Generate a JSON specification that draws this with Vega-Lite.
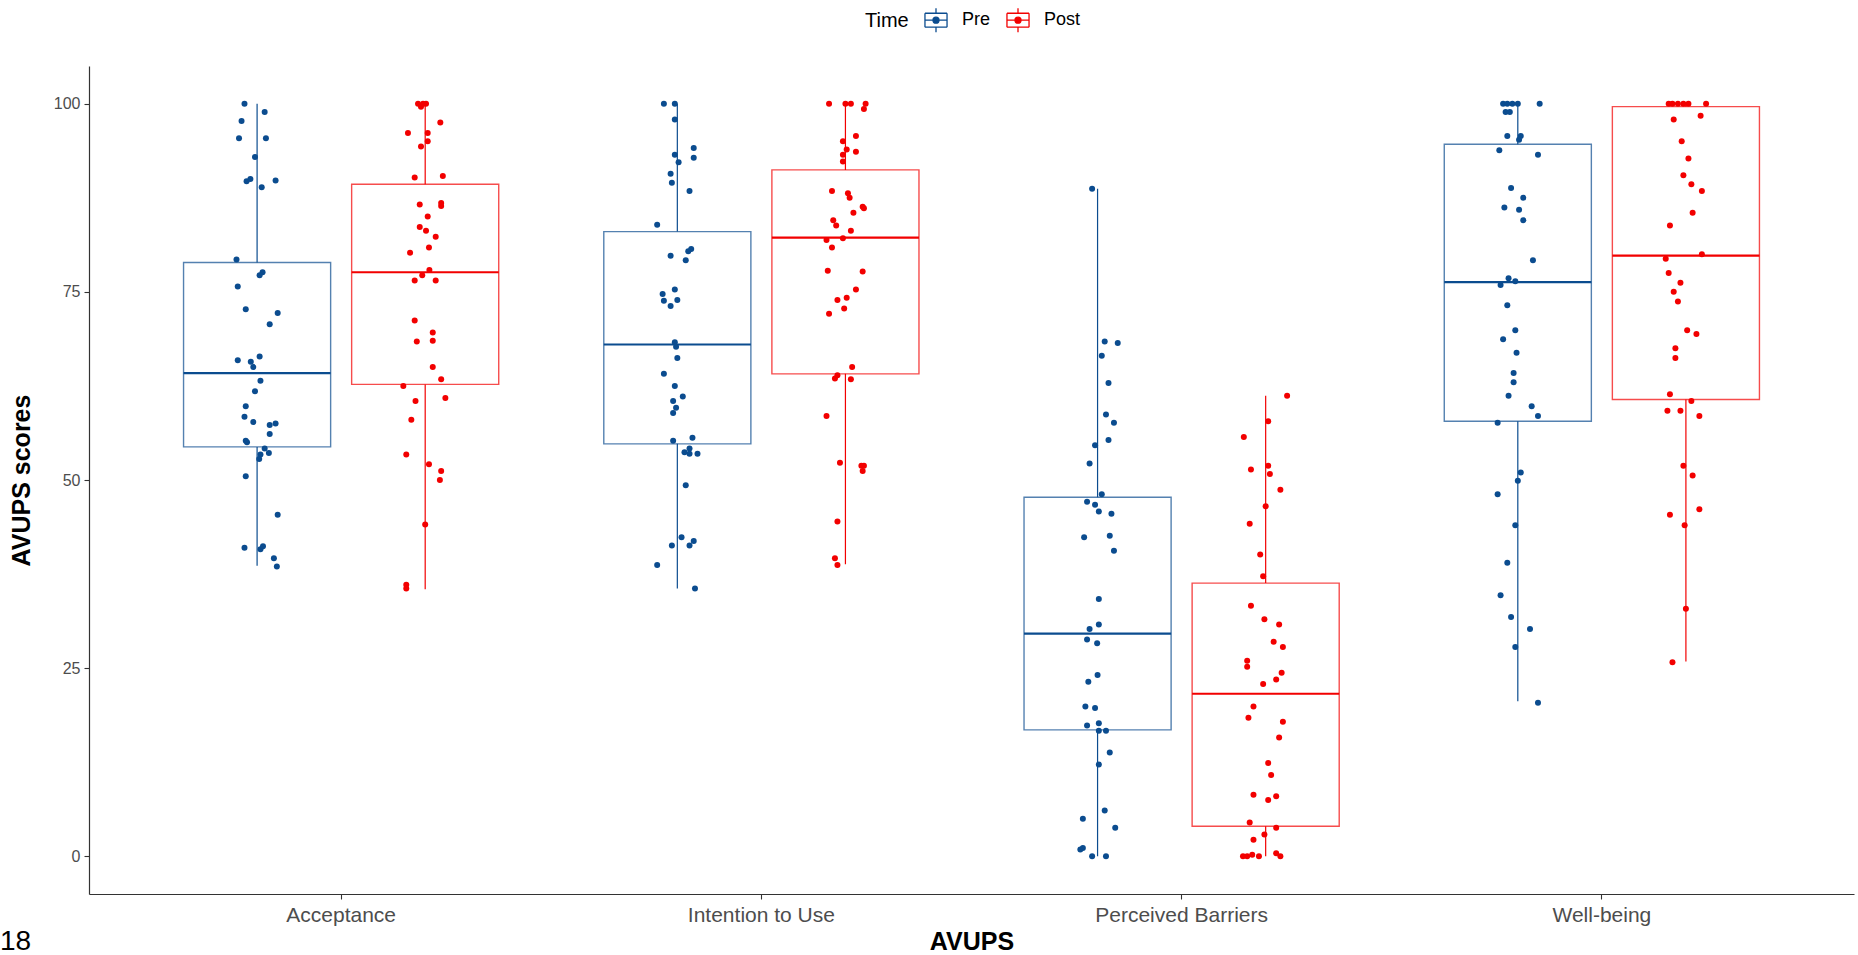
{
  "$schema": "https://vega.github.io/schema/vega-lite/v6.json",
  "width": 1765,
  "height": 828,
  "autosize": {"type": "none"},
  "padding": {"left": 89, "top": 66, "right": 4, "bottom": 61},
  "background": "white",
  "config": {"view": {"stroke": null}, "font": "Liberation Sans"},
  "title": {"text": "18", "orient": "bottom", "anchor": "start", "frame": "group", "dx": -89, "offset": -26, "fontSize": 28, "fontWeight": "normal", "color": "black"},
  "datasets": {
    "boxes": [
      {"avups": "Acceptance", "time": "Pre", "lower": 38.6, "q1": 54.4, "median": 64.2, "q3": 78.9, "upper": 100},
      {"avups": "Acceptance", "time": "Post", "lower": 35.5, "q1": 62.7, "median": 77.6, "q3": 89.3, "upper": 100},
      {"avups": "Intention to Use", "time": "Pre", "lower": 35.6, "q1": 54.8, "median": 68.0, "q3": 83.0, "upper": 100},
      {"avups": "Intention to Use", "time": "Post", "lower": 38.8, "q1": 64.1, "median": 82.2, "q3": 91.2, "upper": 100},
      {"avups": "Perceived Barriers", "time": "Pre", "lower": 0, "q1": 16.8, "median": 29.6, "q3": 47.7, "upper": 88.7},
      {"avups": "Perceived Barriers", "time": "Post", "lower": 0, "q1": 4.0, "median": 21.6, "q3": 36.3, "upper": 61.2},
      {"avups": "Well-being", "time": "Pre", "lower": 20.6, "q1": 57.8, "median": 76.3, "q3": 94.6, "upper": 100},
      {"avups": "Well-being", "time": "Post", "lower": 25.9, "q1": 60.7, "median": 79.8, "q3": 99.6, "upper": 100}
    ],
    "points": [
      {"avups": "Acceptance", "time": "Pre", "score": 100, "jitter": -0.030},
      {"avups": "Acceptance", "time": "Pre", "score": 98.9, "jitter": 0.018},
      {"avups": "Acceptance", "time": "Pre", "score": 97.7, "jitter": -0.037},
      {"avups": "Acceptance", "time": "Pre", "score": 95.4, "jitter": -0.043},
      {"avups": "Acceptance", "time": "Pre", "score": 95.4, "jitter": 0.021},
      {"avups": "Acceptance", "time": "Pre", "score": 92.9, "jitter": -0.005},
      {"avups": "Acceptance", "time": "Pre", "score": 89.7, "jitter": -0.025},
      {"avups": "Acceptance", "time": "Pre", "score": 90.0, "jitter": -0.016},
      {"avups": "Acceptance", "time": "Pre", "score": 88.9, "jitter": 0.011},
      {"avups": "Acceptance", "time": "Pre", "score": 89.8, "jitter": 0.044},
      {"avups": "Acceptance", "time": "Pre", "score": 79.3, "jitter": -0.049},
      {"avups": "Acceptance", "time": "Pre", "score": 77.6, "jitter": 0.013},
      {"avups": "Acceptance", "time": "Pre", "score": 77.2, "jitter": 0.006},
      {"avups": "Acceptance", "time": "Pre", "score": 75.7, "jitter": -0.046},
      {"avups": "Acceptance", "time": "Pre", "score": 72.7, "jitter": -0.027},
      {"avups": "Acceptance", "time": "Pre", "score": 72.2, "jitter": 0.049},
      {"avups": "Acceptance", "time": "Pre", "score": 70.7, "jitter": 0.030},
      {"avups": "Acceptance", "time": "Pre", "score": 65.9, "jitter": -0.046},
      {"avups": "Acceptance", "time": "Pre", "score": 66.4, "jitter": 0.006},
      {"avups": "Acceptance", "time": "Pre", "score": 65.7, "jitter": -0.015},
      {"avups": "Acceptance", "time": "Pre", "score": 65.0, "jitter": -0.009},
      {"avups": "Acceptance", "time": "Pre", "score": 63.2, "jitter": 0.008},
      {"avups": "Acceptance", "time": "Pre", "score": 61.8, "jitter": -0.005},
      {"avups": "Acceptance", "time": "Pre", "score": 59.8, "jitter": -0.027},
      {"avups": "Acceptance", "time": "Pre", "score": 58.4, "jitter": -0.030},
      {"avups": "Acceptance", "time": "Pre", "score": 57.7, "jitter": -0.009},
      {"avups": "Acceptance", "time": "Pre", "score": 57.3, "jitter": 0.030},
      {"avups": "Acceptance", "time": "Pre", "score": 57.5, "jitter": 0.044},
      {"avups": "Acceptance", "time": "Pre", "score": 56.1, "jitter": 0.030},
      {"avups": "Acceptance", "time": "Pre", "score": 55.2, "jitter": -0.027},
      {"avups": "Acceptance", "time": "Pre", "score": 55.0, "jitter": -0.024},
      {"avups": "Acceptance", "time": "Pre", "score": 54.2, "jitter": 0.018},
      {"avups": "Acceptance", "time": "Pre", "score": 53.6, "jitter": 0.028},
      {"avups": "Acceptance", "time": "Pre", "score": 53.4, "jitter": 0.008},
      {"avups": "Acceptance", "time": "Pre", "score": 52.8, "jitter": 0.005},
      {"avups": "Acceptance", "time": "Pre", "score": 50.5, "jitter": -0.027},
      {"avups": "Acceptance", "time": "Pre", "score": 45.4, "jitter": 0.049},
      {"avups": "Acceptance", "time": "Pre", "score": 41.0, "jitter": -0.030},
      {"avups": "Acceptance", "time": "Pre", "score": 40.8, "jitter": 0.008},
      {"avups": "Acceptance", "time": "Pre", "score": 41.2, "jitter": 0.014},
      {"avups": "Acceptance", "time": "Pre", "score": 39.6, "jitter": 0.040},
      {"avups": "Acceptance", "time": "Pre", "score": 38.5, "jitter": 0.047},
      {"avups": "Acceptance", "time": "Post", "score": 100, "jitter": -0.017},
      {"avups": "Acceptance", "time": "Post", "score": 99.6, "jitter": -0.010},
      {"avups": "Acceptance", "time": "Post", "score": 100, "jitter": 0.002},
      {"avups": "Acceptance", "time": "Post", "score": 100, "jitter": -0.005},
      {"avups": "Acceptance", "time": "Post", "score": 97.5, "jitter": 0.036},
      {"avups": "Acceptance", "time": "Post", "score": 96.1, "jitter": -0.041},
      {"avups": "Acceptance", "time": "Post", "score": 96.1, "jitter": 0.006},
      {"avups": "Acceptance", "time": "Post", "score": 95.0, "jitter": 0.006},
      {"avups": "Acceptance", "time": "Post", "score": 94.3, "jitter": -0.010},
      {"avups": "Acceptance", "time": "Post", "score": 90.2, "jitter": -0.025},
      {"avups": "Acceptance", "time": "Post", "score": 90.4, "jitter": 0.042},
      {"avups": "Acceptance", "time": "Post", "score": 86.6, "jitter": -0.013},
      {"avups": "Acceptance", "time": "Post", "score": 86.8, "jitter": 0.038},
      {"avups": "Acceptance", "time": "Post", "score": 86.4, "jitter": 0.038},
      {"avups": "Acceptance", "time": "Post", "score": 85.0, "jitter": 0.006},
      {"avups": "Acceptance", "time": "Post", "score": 83.6, "jitter": -0.013},
      {"avups": "Acceptance", "time": "Post", "score": 83.1, "jitter": 0.002},
      {"avups": "Acceptance", "time": "Post", "score": 82.3, "jitter": 0.025},
      {"avups": "Acceptance", "time": "Post", "score": 80.9, "jitter": 0.009},
      {"avups": "Acceptance", "time": "Post", "score": 80.2, "jitter": -0.036},
      {"avups": "Acceptance", "time": "Post", "score": 77.9, "jitter": 0.010},
      {"avups": "Acceptance", "time": "Post", "score": 77.2, "jitter": -0.007},
      {"avups": "Acceptance", "time": "Post", "score": 76.5, "jitter": -0.025},
      {"avups": "Acceptance", "time": "Post", "score": 76.5, "jitter": 0.025},
      {"avups": "Acceptance", "time": "Post", "score": 71.2, "jitter": -0.025},
      {"avups": "Acceptance", "time": "Post", "score": 69.6, "jitter": 0.018},
      {"avups": "Acceptance", "time": "Post", "score": 68.4, "jitter": -0.020},
      {"avups": "Acceptance", "time": "Post", "score": 68.5, "jitter": 0.018},
      {"avups": "Acceptance", "time": "Post", "score": 65.0, "jitter": 0.018},
      {"avups": "Acceptance", "time": "Post", "score": 63.4, "jitter": 0.038},
      {"avups": "Acceptance", "time": "Post", "score": 62.5, "jitter": -0.052},
      {"avups": "Acceptance", "time": "Post", "score": 60.5, "jitter": -0.023},
      {"avups": "Acceptance", "time": "Post", "score": 60.9, "jitter": 0.048},
      {"avups": "Acceptance", "time": "Post", "score": 58.0, "jitter": -0.033},
      {"avups": "Acceptance", "time": "Post", "score": 53.4, "jitter": -0.045},
      {"avups": "Acceptance", "time": "Post", "score": 52.1, "jitter": 0.009},
      {"avups": "Acceptance", "time": "Post", "score": 51.2, "jitter": 0.038},
      {"avups": "Acceptance", "time": "Post", "score": 50.0, "jitter": 0.035},
      {"avups": "Acceptance", "time": "Post", "score": 44.1, "jitter": 0.0},
      {"avups": "Acceptance", "time": "Post", "score": 36.1, "jitter": -0.045},
      {"avups": "Acceptance", "time": "Post", "score": 35.6, "jitter": -0.045},
      {"avups": "Intention to Use", "time": "Pre", "score": 100, "jitter": -0.032},
      {"avups": "Intention to Use", "time": "Pre", "score": 100, "jitter": -0.006},
      {"avups": "Intention to Use", "time": "Pre", "score": 97.9, "jitter": -0.006},
      {"avups": "Intention to Use", "time": "Pre", "score": 94.1, "jitter": 0.039},
      {"avups": "Intention to Use", "time": "Pre", "score": 92.8, "jitter": 0.039},
      {"avups": "Intention to Use", "time": "Pre", "score": 93.2, "jitter": -0.006},
      {"avups": "Intention to Use", "time": "Pre", "score": 92.2, "jitter": 0.003},
      {"avups": "Intention to Use", "time": "Pre", "score": 90.7, "jitter": -0.016},
      {"avups": "Intention to Use", "time": "Pre", "score": 89.5, "jitter": -0.013},
      {"avups": "Intention to Use", "time": "Pre", "score": 88.4, "jitter": 0.029},
      {"avups": "Intention to Use", "time": "Pre", "score": 83.9, "jitter": -0.048},
      {"avups": "Intention to Use", "time": "Pre", "score": 80.7, "jitter": 0.033},
      {"avups": "Intention to Use", "time": "Pre", "score": 80.4, "jitter": 0.026},
      {"avups": "Intention to Use", "time": "Pre", "score": 79.8, "jitter": -0.016},
      {"avups": "Intention to Use", "time": "Pre", "score": 79.2, "jitter": 0.020},
      {"avups": "Intention to Use", "time": "Pre", "score": 75.3, "jitter": -0.006},
      {"avups": "Intention to Use", "time": "Pre", "score": 74.7, "jitter": -0.035},
      {"avups": "Intention to Use", "time": "Pre", "score": 73.8, "jitter": -0.032},
      {"avups": "Intention to Use", "time": "Pre", "score": 73.9, "jitter": 0.0},
      {"avups": "Intention to Use", "time": "Pre", "score": 73.1, "jitter": -0.016},
      {"avups": "Intention to Use", "time": "Pre", "score": 68.3, "jitter": -0.006},
      {"avups": "Intention to Use", "time": "Pre", "score": 67.7, "jitter": -0.003},
      {"avups": "Intention to Use", "time": "Pre", "score": 66.2, "jitter": 0.0},
      {"avups": "Intention to Use", "time": "Pre", "score": 64.1, "jitter": -0.032},
      {"avups": "Intention to Use", "time": "Pre", "score": 62.5, "jitter": -0.006},
      {"avups": "Intention to Use", "time": "Pre", "score": 61.1, "jitter": 0.013},
      {"avups": "Intention to Use", "time": "Pre", "score": 60.5, "jitter": -0.010},
      {"avups": "Intention to Use", "time": "Pre", "score": 59.6, "jitter": -0.003},
      {"avups": "Intention to Use", "time": "Pre", "score": 58.9, "jitter": -0.010},
      {"avups": "Intention to Use", "time": "Pre", "score": 55.2, "jitter": -0.010},
      {"avups": "Intention to Use", "time": "Pre", "score": 55.6, "jitter": 0.036},
      {"avups": "Intention to Use", "time": "Pre", "score": 53.7, "jitter": 0.017},
      {"avups": "Intention to Use", "time": "Pre", "score": 54.2, "jitter": 0.029},
      {"avups": "Intention to Use", "time": "Pre", "score": 53.5, "jitter": 0.029},
      {"avups": "Intention to Use", "time": "Pre", "score": 53.5, "jitter": 0.048},
      {"avups": "Intention to Use", "time": "Pre", "score": 49.3, "jitter": 0.020},
      {"avups": "Intention to Use", "time": "Pre", "score": 42.4, "jitter": 0.010},
      {"avups": "Intention to Use", "time": "Pre", "score": 41.3, "jitter": -0.013},
      {"avups": "Intention to Use", "time": "Pre", "score": 41.3, "jitter": 0.029},
      {"avups": "Intention to Use", "time": "Pre", "score": 41.9, "jitter": 0.039},
      {"avups": "Intention to Use", "time": "Pre", "score": 38.7, "jitter": -0.048},
      {"avups": "Intention to Use", "time": "Pre", "score": 35.6, "jitter": 0.042},
      {"avups": "Intention to Use", "time": "Post", "score": 100, "jitter": -0.039},
      {"avups": "Intention to Use", "time": "Post", "score": 100, "jitter": 0.0},
      {"avups": "Intention to Use", "time": "Post", "score": 100, "jitter": 0.013},
      {"avups": "Intention to Use", "time": "Post", "score": 100, "jitter": 0.048},
      {"avups": "Intention to Use", "time": "Post", "score": 99.3, "jitter": 0.044},
      {"avups": "Intention to Use", "time": "Post", "score": 95.7, "jitter": 0.025},
      {"avups": "Intention to Use", "time": "Post", "score": 95.0, "jitter": -0.006},
      {"avups": "Intention to Use", "time": "Post", "score": 93.9, "jitter": 0.003},
      {"avups": "Intention to Use", "time": "Post", "score": 93.6, "jitter": 0.025},
      {"avups": "Intention to Use", "time": "Post", "score": 93.2, "jitter": -0.006},
      {"avups": "Intention to Use", "time": "Post", "score": 92.3, "jitter": -0.006},
      {"avups": "Intention to Use", "time": "Post", "score": 88.4, "jitter": -0.032},
      {"avups": "Intention to Use", "time": "Post", "score": 88.1, "jitter": 0.006},
      {"avups": "Intention to Use", "time": "Post", "score": 87.5, "jitter": 0.010},
      {"avups": "Intention to Use", "time": "Post", "score": 86.1, "jitter": 0.044},
      {"avups": "Intention to Use", "time": "Post", "score": 86.3, "jitter": 0.041},
      {"avups": "Intention to Use", "time": "Post", "score": 85.5, "jitter": 0.019},
      {"avups": "Intention to Use", "time": "Post", "score": 84.5, "jitter": -0.029},
      {"avups": "Intention to Use", "time": "Post", "score": 83.8, "jitter": -0.022},
      {"avups": "Intention to Use", "time": "Post", "score": 83.1, "jitter": 0.013},
      {"avups": "Intention to Use", "time": "Post", "score": 81.9, "jitter": -0.045},
      {"avups": "Intention to Use", "time": "Post", "score": 82.1, "jitter": -0.006},
      {"avups": "Intention to Use", "time": "Post", "score": 80.9, "jitter": -0.032},
      {"avups": "Intention to Use", "time": "Post", "score": 77.8, "jitter": -0.042},
      {"avups": "Intention to Use", "time": "Post", "score": 77.7, "jitter": 0.041},
      {"avups": "Intention to Use", "time": "Post", "score": 75.3, "jitter": 0.025},
      {"avups": "Intention to Use", "time": "Post", "score": 74.2, "jitter": 0.003},
      {"avups": "Intention to Use", "time": "Post", "score": 73.9, "jitter": -0.019},
      {"avups": "Intention to Use", "time": "Post", "score": 72.8, "jitter": -0.003},
      {"avups": "Intention to Use", "time": "Post", "score": 72.1, "jitter": -0.039},
      {"avups": "Intention to Use", "time": "Post", "score": 65.0, "jitter": 0.016},
      {"avups": "Intention to Use", "time": "Post", "score": 63.9, "jitter": -0.019},
      {"avups": "Intention to Use", "time": "Post", "score": 63.5, "jitter": -0.025},
      {"avups": "Intention to Use", "time": "Post", "score": 63.4, "jitter": 0.013},
      {"avups": "Intention to Use", "time": "Post", "score": 58.5, "jitter": -0.045},
      {"avups": "Intention to Use", "time": "Post", "score": 52.3, "jitter": -0.013},
      {"avups": "Intention to Use", "time": "Post", "score": 51.9, "jitter": 0.038},
      {"avups": "Intention to Use", "time": "Post", "score": 51.9, "jitter": 0.044},
      {"avups": "Intention to Use", "time": "Post", "score": 51.2, "jitter": 0.041},
      {"avups": "Intention to Use", "time": "Post", "score": 44.5, "jitter": -0.019},
      {"avups": "Intention to Use", "time": "Post", "score": 39.6, "jitter": -0.025},
      {"avups": "Intention to Use", "time": "Post", "score": 38.7, "jitter": -0.019},
      {"avups": "Perceived Barriers", "time": "Pre", "score": 88.7, "jitter": -0.013},
      {"avups": "Perceived Barriers", "time": "Pre", "score": 68.4, "jitter": 0.017},
      {"avups": "Perceived Barriers", "time": "Pre", "score": 68.2, "jitter": 0.048},
      {"avups": "Perceived Barriers", "time": "Pre", "score": 66.5, "jitter": 0.010},
      {"avups": "Perceived Barriers", "time": "Pre", "score": 62.9, "jitter": 0.026},
      {"avups": "Perceived Barriers", "time": "Pre", "score": 58.7, "jitter": 0.020},
      {"avups": "Perceived Barriers", "time": "Pre", "score": 57.6, "jitter": 0.039},
      {"avups": "Perceived Barriers", "time": "Pre", "score": 55.3, "jitter": 0.026},
      {"avups": "Perceived Barriers", "time": "Pre", "score": 54.6, "jitter": -0.006},
      {"avups": "Perceived Barriers", "time": "Pre", "score": 52.2, "jitter": -0.019},
      {"avups": "Perceived Barriers", "time": "Pre", "score": 48.1, "jitter": 0.010},
      {"avups": "Perceived Barriers", "time": "Pre", "score": 47.1, "jitter": -0.025},
      {"avups": "Perceived Barriers", "time": "Pre", "score": 46.7, "jitter": -0.006},
      {"avups": "Perceived Barriers", "time": "Pre", "score": 45.8, "jitter": 0.003},
      {"avups": "Perceived Barriers", "time": "Pre", "score": 45.5, "jitter": 0.033},
      {"avups": "Perceived Barriers", "time": "Pre", "score": 42.4, "jitter": -0.032},
      {"avups": "Perceived Barriers", "time": "Pre", "score": 42.6, "jitter": 0.029},
      {"avups": "Perceived Barriers", "time": "Pre", "score": 40.6, "jitter": 0.039},
      {"avups": "Perceived Barriers", "time": "Pre", "score": 34.2, "jitter": 0.003},
      {"avups": "Perceived Barriers", "time": "Pre", "score": 30.8, "jitter": 0.003},
      {"avups": "Perceived Barriers", "time": "Pre", "score": 30.2, "jitter": -0.019},
      {"avups": "Perceived Barriers", "time": "Pre", "score": 28.8, "jitter": -0.025},
      {"avups": "Perceived Barriers", "time": "Pre", "score": 28.3, "jitter": -0.001},
      {"avups": "Perceived Barriers", "time": "Pre", "score": 24.1, "jitter": 0.0},
      {"avups": "Perceived Barriers", "time": "Pre", "score": 23.2, "jitter": -0.022},
      {"avups": "Perceived Barriers", "time": "Pre", "score": 19.9, "jitter": -0.029},
      {"avups": "Perceived Barriers", "time": "Pre", "score": 19.7, "jitter": -0.006},
      {"avups": "Perceived Barriers", "time": "Pre", "score": 17.4, "jitter": -0.025},
      {"avups": "Perceived Barriers", "time": "Pre", "score": 17.7, "jitter": 0.003},
      {"avups": "Perceived Barriers", "time": "Pre", "score": 16.7, "jitter": 0.003},
      {"avups": "Perceived Barriers", "time": "Pre", "score": 16.7, "jitter": 0.020},
      {"avups": "Perceived Barriers", "time": "Pre", "score": 13.8, "jitter": 0.029},
      {"avups": "Perceived Barriers", "time": "Pre", "score": 12.2, "jitter": 0.003},
      {"avups": "Perceived Barriers", "time": "Pre", "score": 6.1, "jitter": 0.017},
      {"avups": "Perceived Barriers", "time": "Pre", "score": 5.0, "jitter": -0.035},
      {"avups": "Perceived Barriers", "time": "Pre", "score": 3.8, "jitter": 0.042},
      {"avups": "Perceived Barriers", "time": "Pre", "score": 0.9, "jitter": -0.041},
      {"avups": "Perceived Barriers", "time": "Pre", "score": 1.1, "jitter": -0.035},
      {"avups": "Perceived Barriers", "time": "Pre", "score": 0, "jitter": -0.013},
      {"avups": "Perceived Barriers", "time": "Pre", "score": 0, "jitter": 0.020},
      {"avups": "Perceived Barriers", "time": "Post", "score": 61.2, "jitter": 0.051},
      {"avups": "Perceived Barriers", "time": "Post", "score": 57.8, "jitter": 0.006},
      {"avups": "Perceived Barriers", "time": "Post", "score": 55.7, "jitter": -0.052},
      {"avups": "Perceived Barriers", "time": "Post", "score": 51.9, "jitter": 0.006},
      {"avups": "Perceived Barriers", "time": "Post", "score": 51.4, "jitter": -0.035},
      {"avups": "Perceived Barriers", "time": "Post", "score": 50.8, "jitter": 0.010},
      {"avups": "Perceived Barriers", "time": "Post", "score": 48.7, "jitter": 0.035},
      {"avups": "Perceived Barriers", "time": "Post", "score": 46.5, "jitter": 0.0},
      {"avups": "Perceived Barriers", "time": "Post", "score": 44.2, "jitter": -0.038},
      {"avups": "Perceived Barriers", "time": "Post", "score": 40.1, "jitter": -0.013},
      {"avups": "Perceived Barriers", "time": "Post", "score": 37.2, "jitter": -0.006},
      {"avups": "Perceived Barriers", "time": "Post", "score": 33.3, "jitter": -0.035},
      {"avups": "Perceived Barriers", "time": "Post", "score": 31.5, "jitter": -0.003},
      {"avups": "Perceived Barriers", "time": "Post", "score": 30.8, "jitter": 0.032},
      {"avups": "Perceived Barriers", "time": "Post", "score": 28.5, "jitter": 0.019},
      {"avups": "Perceived Barriers", "time": "Post", "score": 27.8, "jitter": 0.041},
      {"avups": "Perceived Barriers", "time": "Post", "score": 26.0, "jitter": -0.044},
      {"avups": "Perceived Barriers", "time": "Post", "score": 25.2, "jitter": -0.044},
      {"avups": "Perceived Barriers", "time": "Post", "score": 24.4, "jitter": 0.038},
      {"avups": "Perceived Barriers", "time": "Post", "score": 23.5, "jitter": 0.025},
      {"avups": "Perceived Barriers", "time": "Post", "score": 22.9, "jitter": -0.006},
      {"avups": "Perceived Barriers", "time": "Post", "score": 19.9, "jitter": -0.029},
      {"avups": "Perceived Barriers", "time": "Post", "score": 18.4, "jitter": -0.041},
      {"avups": "Perceived Barriers", "time": "Post", "score": 17.9, "jitter": 0.041},
      {"avups": "Perceived Barriers", "time": "Post", "score": 15.8, "jitter": 0.032},
      {"avups": "Perceived Barriers", "time": "Post", "score": 12.4, "jitter": 0.006},
      {"avups": "Perceived Barriers", "time": "Post", "score": 10.8, "jitter": 0.013},
      {"avups": "Perceived Barriers", "time": "Post", "score": 8.2, "jitter": -0.029},
      {"avups": "Perceived Barriers", "time": "Post", "score": 7.5, "jitter": 0.006},
      {"avups": "Perceived Barriers", "time": "Post", "score": 8.0, "jitter": 0.025},
      {"avups": "Perceived Barriers", "time": "Post", "score": 4.5, "jitter": -0.038},
      {"avups": "Perceived Barriers", "time": "Post", "score": 3.8, "jitter": 0.025},
      {"avups": "Perceived Barriers", "time": "Post", "score": 2.9, "jitter": -0.003},
      {"avups": "Perceived Barriers", "time": "Post", "score": 2.2, "jitter": -0.029},
      {"avups": "Perceived Barriers", "time": "Post", "score": 0, "jitter": -0.054},
      {"avups": "Perceived Barriers", "time": "Post", "score": 0, "jitter": -0.044},
      {"avups": "Perceived Barriers", "time": "Post", "score": 0.2, "jitter": -0.032},
      {"avups": "Perceived Barriers", "time": "Post", "score": 0, "jitter": -0.016},
      {"avups": "Perceived Barriers", "time": "Post", "score": 0.4, "jitter": 0.025},
      {"avups": "Perceived Barriers", "time": "Post", "score": 0, "jitter": 0.035},
      {"avups": "Well-being", "time": "Pre", "score": 100, "jitter": -0.035},
      {"avups": "Well-being", "time": "Pre", "score": 100, "jitter": -0.025},
      {"avups": "Well-being", "time": "Pre", "score": 100, "jitter": -0.013},
      {"avups": "Well-being", "time": "Pre", "score": 100, "jitter": 0.0},
      {"avups": "Well-being", "time": "Pre", "score": 100, "jitter": 0.052},
      {"avups": "Well-being", "time": "Pre", "score": 98.9, "jitter": -0.029},
      {"avups": "Well-being", "time": "Pre", "score": 98.9, "jitter": -0.019},
      {"avups": "Well-being", "time": "Pre", "score": 95.7, "jitter": -0.025},
      {"avups": "Well-being", "time": "Pre", "score": 95.7, "jitter": 0.007},
      {"avups": "Well-being", "time": "Pre", "score": 95.2, "jitter": 0.003},
      {"avups": "Well-being", "time": "Pre", "score": 93.8, "jitter": -0.044},
      {"avups": "Well-being", "time": "Pre", "score": 93.2, "jitter": 0.048},
      {"avups": "Well-being", "time": "Pre", "score": 88.8, "jitter": -0.016},
      {"avups": "Well-being", "time": "Pre", "score": 87.5, "jitter": 0.013},
      {"avups": "Well-being", "time": "Pre", "score": 86.2, "jitter": -0.032},
      {"avups": "Well-being", "time": "Pre", "score": 85.9, "jitter": 0.003},
      {"avups": "Well-being", "time": "Pre", "score": 84.5, "jitter": 0.013},
      {"avups": "Well-being", "time": "Pre", "score": 79.2, "jitter": 0.036},
      {"avups": "Well-being", "time": "Pre", "score": 76.8, "jitter": -0.022},
      {"avups": "Well-being", "time": "Pre", "score": 76.4, "jitter": -0.006},
      {"avups": "Well-being", "time": "Pre", "score": 75.9, "jitter": -0.041},
      {"avups": "Well-being", "time": "Pre", "score": 73.2, "jitter": -0.025},
      {"avups": "Well-being", "time": "Pre", "score": 69.9, "jitter": -0.006},
      {"avups": "Well-being", "time": "Pre", "score": 68.7, "jitter": -0.035},
      {"avups": "Well-being", "time": "Pre", "score": 66.9, "jitter": -0.003},
      {"avups": "Well-being", "time": "Pre", "score": 64.2, "jitter": -0.010},
      {"avups": "Well-being", "time": "Pre", "score": 63.0, "jitter": -0.010},
      {"avups": "Well-being", "time": "Pre", "score": 61.2, "jitter": -0.022},
      {"avups": "Well-being", "time": "Pre", "score": 59.8, "jitter": 0.033},
      {"avups": "Well-being", "time": "Pre", "score": 58.5, "jitter": 0.048},
      {"avups": "Well-being", "time": "Pre", "score": 57.6, "jitter": -0.048},
      {"avups": "Well-being", "time": "Pre", "score": 51.0, "jitter": 0.007},
      {"avups": "Well-being", "time": "Pre", "score": 49.9, "jitter": 0.0},
      {"avups": "Well-being", "time": "Pre", "score": 48.1, "jitter": -0.048},
      {"avups": "Well-being", "time": "Pre", "score": 44.0, "jitter": -0.006},
      {"avups": "Well-being", "time": "Pre", "score": 39.0, "jitter": -0.025},
      {"avups": "Well-being", "time": "Pre", "score": 34.7, "jitter": -0.041},
      {"avups": "Well-being", "time": "Pre", "score": 31.8, "jitter": -0.016},
      {"avups": "Well-being", "time": "Pre", "score": 30.2, "jitter": 0.029},
      {"avups": "Well-being", "time": "Pre", "score": 27.8, "jitter": -0.006},
      {"avups": "Well-being", "time": "Pre", "score": 20.4, "jitter": 0.048},
      {"avups": "Well-being", "time": "Post", "score": 100, "jitter": -0.041},
      {"avups": "Well-being", "time": "Post", "score": 100, "jitter": -0.032},
      {"avups": "Well-being", "time": "Post", "score": 100, "jitter": -0.019},
      {"avups": "Well-being", "time": "Post", "score": 100, "jitter": -0.006},
      {"avups": "Well-being", "time": "Post", "score": 100, "jitter": 0.006},
      {"avups": "Well-being", "time": "Post", "score": 100, "jitter": 0.048},
      {"avups": "Well-being", "time": "Post", "score": 98.4, "jitter": 0.035},
      {"avups": "Well-being", "time": "Post", "score": 97.9, "jitter": -0.029},
      {"avups": "Well-being", "time": "Post", "score": 95.0, "jitter": -0.010},
      {"avups": "Well-being", "time": "Post", "score": 92.7, "jitter": 0.006},
      {"avups": "Well-being", "time": "Post", "score": 90.5, "jitter": -0.006},
      {"avups": "Well-being", "time": "Post", "score": 89.3, "jitter": 0.013},
      {"avups": "Well-being", "time": "Post", "score": 88.4, "jitter": 0.038},
      {"avups": "Well-being", "time": "Post", "score": 85.5, "jitter": 0.016},
      {"avups": "Well-being", "time": "Post", "score": 83.8, "jitter": -0.038},
      {"avups": "Well-being", "time": "Post", "score": 80.0, "jitter": 0.038},
      {"avups": "Well-being", "time": "Post", "score": 79.4, "jitter": -0.048},
      {"avups": "Well-being", "time": "Post", "score": 77.5, "jitter": -0.041},
      {"avups": "Well-being", "time": "Post", "score": 76.2, "jitter": -0.013},
      {"avups": "Well-being", "time": "Post", "score": 75.0, "jitter": -0.029},
      {"avups": "Well-being", "time": "Post", "score": 73.7, "jitter": -0.019},
      {"avups": "Well-being", "time": "Post", "score": 69.9, "jitter": 0.003},
      {"avups": "Well-being", "time": "Post", "score": 69.4, "jitter": 0.025},
      {"avups": "Well-being", "time": "Post", "score": 67.5, "jitter": -0.025},
      {"avups": "Well-being", "time": "Post", "score": 66.2, "jitter": -0.025},
      {"avups": "Well-being", "time": "Post", "score": 61.4, "jitter": -0.038},
      {"avups": "Well-being", "time": "Post", "score": 60.5, "jitter": 0.013},
      {"avups": "Well-being", "time": "Post", "score": 59.2, "jitter": -0.044},
      {"avups": "Well-being", "time": "Post", "score": 59.2, "jitter": -0.013},
      {"avups": "Well-being", "time": "Post", "score": 58.5, "jitter": 0.032},
      {"avups": "Well-being", "time": "Post", "score": 51.9, "jitter": -0.006},
      {"avups": "Well-being", "time": "Post", "score": 50.6, "jitter": 0.016},
      {"avups": "Well-being", "time": "Post", "score": 45.4, "jitter": -0.038},
      {"avups": "Well-being", "time": "Post", "score": 46.1, "jitter": 0.032},
      {"avups": "Well-being", "time": "Post", "score": 44.0, "jitter": -0.003},
      {"avups": "Well-being", "time": "Post", "score": 32.9, "jitter": 0.0},
      {"avups": "Well-being", "time": "Post", "score": 25.8, "jitter": -0.032}
    ]
  },
  "encoding": {
    "x": {
      "field": "avups", "type": "nominal",
      "sort": ["Acceptance", "Intention to Use", "Perceived Barriers", "Well-being"],
      "scale": {"paddingInner": 0, "paddingOuter": 0.1},
      "axis": {
        "title": "AVUPS", "labelAngle": 0, "labelFontSize": 21, "labelColor": "#4D4D4D",
        "labelPadding": 5, "tickSize": 5, "tickColor": "#333333", "domainColor": "#333333",
        "domainWidth": 1.2, "tickWidth": 1.1, "titleFontSize": 25, "titleFontWeight": "bold",
        "titleColor": "black", "titlePadding": 4, "grid": false
      }
    },
    "color": {
      "field": "time", "type": "nominal",
      "scale": {"domain": ["Pre", "Post"], "range": ["#0B4C8F", "#F20000"]},
      "legend": {
        "orient": "none", "legendX": 776, "legendY": -59, "direction": "horizontal",
        "title": "Time", "titleOrient": "left", "titleFontSize": 20, "titleFontWeight": "normal",
        "titleColor": "black", "titlePadding": 14, "labelFontSize": 18, "labelColor": "black",
        "labelOffset": 13, "columnPadding": 13,
        "symbolType": "M-0.92,-0.58L0.92,-0.58M0.92,-0.58L0.92,0.58M0.92,0.58L-0.92,0.58M-0.92,0.58L-0.92,-0.58M0,-1L0,-0.58M0,0.58L0,1M-0.92,0L0.92,0M0.25,0A0.25,0.25,0,1,1,-0.25,0A0.25,0.25,0,1,1,0.25,0Z",
        "symbolSize": 576,
        "encode": {
          "symbols": {
            "update": {
              "fill": {"scale": "color", "field": "value"},
              "stroke": {"scale": "color", "field": "value"},
              "strokeWidth": {"value": 1.3},
              "size": {"value": 576},
              "opacity": {"value": 1},
              "shape": {"value": "M-0.92,-0.58L0.92,-0.58M0.92,-0.58L0.92,0.58M0.92,0.58L-0.92,0.58M-0.92,0.58L-0.92,-0.58M0,-1L0,-0.58M0,0.58L0,1M-0.92,0L0.92,0M0.25,0A0.25,0.25,0,1,1,-0.25,0A0.25,0.25,0,1,1,0.25,0Z"}
            }
          }
        }
      }
    }
  },
  "layer": [
    {
      "data": {"name": "boxes"},
      "mark": {"type": "rule", "strokeWidth": 1.2},
      "encoding": {
        "xOffset": {"field": "time", "type": "nominal", "sort": ["Pre", "Post"], "scale": {"paddingInner": 0.125, "paddingOuter": 0.3125}},
        "y": {"field": "lower", "type": "quantitative", "title": "AVUPS scores", "scale": {"domain": [-5, 105], "nice": false, "zero": false},
          "axis": {"values": [0, 25, 50, 75, 100], "labelFontSize": 16, "labelColor": "#4D4D4D", "labelPadding": 4, "tickSize": 5, "tickColor": "#333333", "domainColor": "#333333", "domainWidth": 1.2, "tickWidth": 1.1, "titleFontSize": 25, "titleFontWeight": "bold", "titleColor": "black", "titlePadding": 19, "grid": false}},
        "y2": {"field": "upper"}
      }
    },
    {
      "data": {"name": "boxes"},
      "mark": {"type": "bar", "filled": false, "fill": "white", "strokeWidth": 1.4, "strokeOpacity": 0.7},
      "encoding": {
        "xOffset": {"field": "time", "type": "nominal", "sort": ["Pre", "Post"], "scale": {"paddingInner": 0.125, "paddingOuter": 0.3125}},
        "y": {"field": "q1", "type": "quantitative", "title": "AVUPS scores"},
        "y2": {"field": "q3"}
      }
    },
    {
      "data": {"name": "boxes"},
      "mark": {"type": "bar", "filled": false, "strokeWidth": 2.2},
      "encoding": {
        "xOffset": {"field": "time", "type": "nominal", "sort": ["Pre", "Post"], "scale": {"paddingInner": 0.125, "paddingOuter": 0.3125}},
        "y": {"field": "median", "type": "quantitative", "title": "AVUPS scores"},
        "y2": {"field": "median"}
      }
    },
    {
      "data": {"name": "points"},
      "transform": [{"filter": "datum.time === 'Pre'"}],
      "mark": {"type": "point", "filled": true, "size": 36, "opacity": 1},
      "encoding": {
        "xOffset": {"field": "jitter", "type": "quantitative", "scale": {"domain": [-0.3, 0.7], "nice": false, "zero": false}},
        "y": {"field": "score", "type": "quantitative", "title": "AVUPS scores"}
      }
    },
    {
      "data": {"name": "points"},
      "transform": [{"filter": "datum.time === 'Post'"}],
      "mark": {"type": "point", "filled": true, "size": 36, "opacity": 1},
      "encoding": {
        "xOffset": {"field": "jitter", "type": "quantitative", "scale": {"domain": [-0.7, 0.3], "nice": false, "zero": false}},
        "y": {"field": "score", "type": "quantitative", "title": "AVUPS scores"}
      }
    }
  ],
  "resolve": {"scale": {"xOffset": "independent"}}
}
